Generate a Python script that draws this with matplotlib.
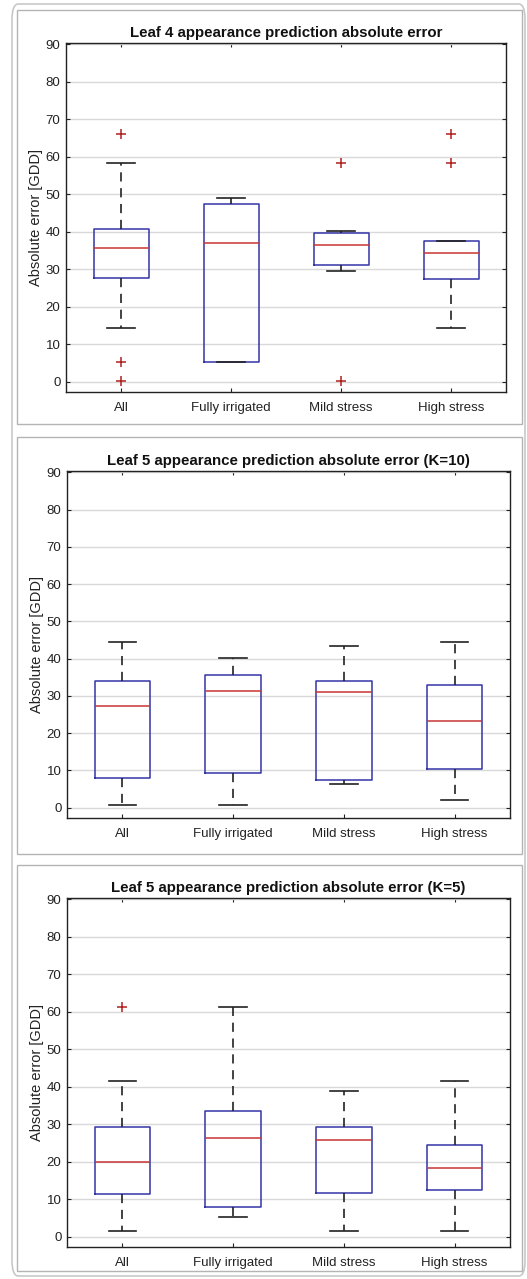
import matplotlib
matplotlib.use("Agg")
import matplotlib.pyplot as plt
from matplotlib.patches import FancyBboxPatch, Rectangle

plt.rcParams["font.family"] = ["Liberation Sans", "DejaVu Sans"]

GROUPS = ["All", "Fully irrigated", "Mild stress", "High stress"]

# Leaf 4
leaf4_whislo = [14.3, 5.3, 29.6, 14.3]
leaf4_q1 = [27.7, 5.3, 31.0, 27.4]
leaf4_med = [35.6, 36.9, 36.5, 34.4]
leaf4_q3 = [40.6, 47.5, 39.6, 37.4]
leaf4_whishi = [58.4, 49.1, 40.2, 37.4]
leaf4_fliers = [[66.0, 5.3, 0.2], [], [58.4, 0.2], [66.0, 58.4]]

# Leaf 5, K=10
leaf5k10_whislo = [0.7, 0.7, 6.4, 2.1]
leaf5k10_q1 = [8.0, 9.2, 7.5, 10.3]
leaf5k10_med = [27.2, 31.2, 31.0, 23.3]
leaf5k10_q3 = [33.9, 35.6, 33.9, 32.9]
leaf5k10_whishi = [44.6, 40.3, 43.5, 44.6]
leaf5k10_fliers = [[], [], [], []]

# Leaf 5, K=5
leaf5k5_whislo = [1.6, 5.2, 1.6, 1.6]
leaf5k5_q1 = [11.4, 7.8, 11.7, 12.5]
leaf5k5_med = [19.9, 26.3, 25.9, 18.3]
leaf5k5_q3 = [29.2, 33.6, 29.2, 24.5]
leaf5k5_whishi = [41.5, 61.2, 38.9, 41.5]
leaf5k5_fliers = [[61.2], [], [], []]

TITLES = [
    "Leaf 4 appearance prediction absolute error",
    "Leaf 5 appearance prediction absolute error (K=10)",
    "Leaf 5 appearance prediction absolute error (K=5)",
]

W, H = 527, 1279
fig = plt.figure(figsize=(W / 100, H / 100), dpi=100)


def px_box(left, top, right, bottom):
    return [left / W, 1 - bottom / H, (right - left) / W, (bottom - top) / H]


# outer rounded frame and one frame per panel
l, b, w, h = px_box(12, 4, 525, 1276)
fig.patches.append(FancyBboxPatch((l, b), w, h, boxstyle="round,pad=0,rounding_size=0.012",
                                  transform=fig.transFigure, fill=False,
                                  edgecolor="#c8c8c8", linewidth=1.2))
for top, bottom in [(10, 424), (437, 854), (865, 1271)]:
    l, b, w, h = px_box(17, top, 522, bottom)
    fig.patches.append(Rectangle((l, b), w, h, transform=fig.transFigure, fill=False,
                                 edgecolor="#b4b4b4", linewidth=1.0))

panels = [
    (px_box(66, 43, 506, 392), leaf4_whislo, leaf4_q1, leaf4_med, leaf4_q3, leaf4_whishi, leaf4_fliers),
    (px_box(67, 471, 510, 818), leaf5k10_whislo, leaf5k10_q1, leaf5k10_med, leaf5k10_q3, leaf5k10_whishi, leaf5k10_fliers),
    (px_box(67, 898, 510, 1247), leaf5k5_whislo, leaf5k5_q1, leaf5k5_med, leaf5k5_q3, leaf5k5_whishi, leaf5k5_fliers),
]

for (rect, whislo, q1, med, q3, whishi, fliers), title in zip(panels, TITLES):
    ax = fig.add_axes(rect)
    stats = [
        dict(whislo=whislo[i], q1=q1[i], med=med[i], q3=q3[i], whishi=whishi[i], fliers=fliers[i])
        for i in range(len(GROUPS))
    ]
    ax.bxp(
        stats,
        positions=range(1, 5),
        widths=0.5,
        showfliers=True,
        boxprops=dict(color="#3434a8", linewidth=1.1),
        medianprops=dict(color="#c83434", linewidth=1.1),
        whiskerprops=dict(color="#222222", linewidth=1.2, linestyle=(0, (5.5, 4))),
        capprops=dict(color="#222222", linewidth=1.2),
        flierprops=dict(marker="+", markeredgecolor="#b02020", markersize=7, markeredgewidth=1.1),
    )
    ax.set_xlim(0.5, 4.5)
    ax.set_ylim(-2.8, 90.4)
    ax.set_yticks(range(0, 91, 10))
    ax.set_xticks(range(1, 5))
    ax.set_xticklabels(GROUPS)
    ax.yaxis.grid(True, color="#d9d9d9", linewidth=1.0)
    ax.set_axisbelow(True)
    ax.tick_params(direction="in", top=True, right=True, length=3, width=0.8,
                   labelsize=9.5, colors="#222222", pad=7)
    ax.tick_params(axis="y", pad=4)
    for sp in ax.spines.values():
        sp.set_color("#222222")
        sp.set_linewidth(1.0)
    ax.set_ylabel("Absolute error [GDD]", fontsize=10.5, color="#222222", labelpad=2)
    ax.set_title(title, fontsize=10.8, fontweight="bold", color="#111111", pad=4)

fig.savefig("out.png", dpi=100)
